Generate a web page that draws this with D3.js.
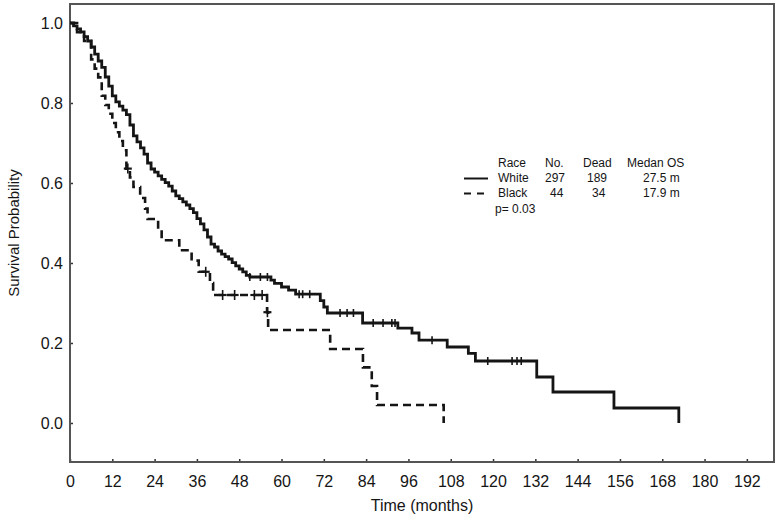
<!DOCTYPE html>
<meta charset="utf-8">
<body style="margin:0;background:#fff">
<script src="https://cdn.jsdelivr.net/npm/d3@7"></script>
<script>
// Kaplan-Meier steps (time in months, survival after the event)
var whiteTimes = [1,2,3,4,5,6,7,8,9,10,11,12,13,14,15,16,17,18,19,20,21,22,23,24,25,26,27,28,29,30,
  31,32,33,34,35,36,37,38,39,40,41,42,43,44,45,46,47,48,49,50,51,57,58,60,62,64,71,72,73,83,93,97,99,
  107,113,115,132.4,137,154.3,172.7];
var whiteSurv = [0.993,0.985,0.978,0.966,0.955,0.94,0.922,0.905,0.889,0.865,0.842,0.818,0.803,0.792,0.782,
  0.771,0.745,0.718,0.703,0.688,0.672,0.65,0.635,0.627,0.618,0.609,0.601,0.592,0.58,0.568,0.561,0.553,0.545,
  0.536,0.526,0.511,0.498,0.483,0.465,0.447,0.44,0.43,0.422,0.416,0.41,0.401,0.393,0.385,0.378,0.369,0.365,
  0.357,0.349,0.34,0.332,0.322,0.306,0.29,0.275,0.25,0.237,0.225,0.207,0.19,0.174,0.155,0.115,0.0775,0.0375,0.0];
var whiteCensor = [51,54,56,65,66,68,76.6,78.6,80.4,86,88.8,91.3,92.2,102.7,118.5,125.4,126.8,128];

var blackTimes = [2,4,6,7,8,9,10,11,12,13,14,15,16,17,18,19.9,21.3,22,25,26,31,34.5,36.5,39.7,40.6,
  55.9,56.2,73.8,83.1,85.6,87.1,106];
var blackSurv = [0.977,0.955,0.909,0.886,0.864,0.818,0.795,0.773,0.75,0.727,0.705,0.682,0.636,0.614,0.59,
  0.5625,0.536,0.51,0.482,0.457,0.432,0.406,0.378,0.35,0.32,0.277,0.2325,0.185,0.139,0.0925,0.045,0.0];
var blackCensor = [16.4,38.5,43.3,46.7,52.3,54.5,56.0];

var xTicks = d3.range(0, 193, 12);
var yTicks = [0, 0.2, 0.4, 0.6, 0.8, 1.0];

var legendHead = ["Race", "No.", "Dead", "Medan OS"];
var legendRace = ["White", "Black"];
var legendNo = ["297", "44"];
var legendDead = ["189", "34"];
var legendMedian = ["27.5 m", "17.9 m"];
var pValue = "p= 0.03";

var width = 779, height = 518;
var plotL = 70, plotR = 774, plotT = 4, plotB = 462;
var font = "Arial, 'Liberation Sans', sans-serif";
var ink = "#151515";

var x = d3.scaleLinear().domain([0, 199.7]).range([plotL, plotR]);
var y = d3.scaleLinear().domain([-0.0975, 1.0475]).range([plotB, plotT]);

var svg = d3.select("body").append("svg")
    .attr("width", width)
    .attr("height", height)
    .style("font-family", font);

// axes with inward ticks
svg.append("g")
    .attr("transform", "translate(0," + plotB + ")")
    .call(d3.axisBottom(x).tickValues(xTicks).tickSizeInner(-3).tickSizeOuter(0).tickPadding(14))
    .call(function(g) {
      g.select(".domain").remove();
      g.selectAll("line").attr("stroke", "#333").attr("stroke-width", 1.5);
      g.selectAll("text").attr("font-size", 16).attr("fill", ink);
    });

svg.append("g")
    .attr("transform", "translate(" + plotL + ",0)")
    .call(d3.axisLeft(y).tickValues(yTicks).tickFormat(d3.format(".1f")).tickSizeInner(-3).tickSizeOuter(0).tickPadding(7))
    .call(function(g) {
      g.select(".domain").remove();
      g.selectAll("line").attr("stroke", "#333").attr("stroke-width", 1.5);
      g.selectAll("text").attr("font-size", 16).attr("fill", ink);
    });

// frame
svg.append("rect")
    .attr("x", plotL).attr("y", plotT)
    .attr("width", plotR - plotL).attr("height", plotB - plotT)
    .attr("fill", "none").attr("stroke", "#555").attr("stroke-width", 2);

svg.append("text")
    .attr("x", (plotL + plotR) / 2).attr("y", 511)
    .attr("text-anchor", "middle").attr("font-size", 16).attr("fill", ink)
    .text("Time (months)");

svg.append("text")
    .attr("transform", "translate(19," + (plotT + plotB) / 2 + ")rotate(-90)")
    .attr("text-anchor", "middle").attr("font-size", 15).attr("fill", ink)
    .text("Survival Probability");

// curves
var line = d3.line()
    .x(function(d) { return x(d[0]); })
    .y(function(d) { return y(d[1]); })
    .curve(d3.curveStepAfter);

function points(times, surv) {
  return [[0, 1]].concat(times.map(function(t, i) { return [t, surv[i]]; }));
}
function survAt(times, surv, t) {
  var s = 1;
  times.forEach(function(tt, i) { if (tt <= t) s = surv[i]; });
  return s;
}

svg.append("path")
    .datum(points(whiteTimes, whiteSurv))
    .attr("d", line)
    .attr("fill", "none").attr("stroke", ink).attr("stroke-width", 2.8);

svg.append("path")
    .datum(points(blackTimes, blackSurv))
    .attr("d", line)
    .attr("fill", "none").attr("stroke", ink).attr("stroke-width", 2.6)
    .attr("stroke-dasharray", "8,5");

svg.selectAll(".cw").data(whiteCensor).enter().append("line")
    .attr("x1", function(d) { return x(d); }).attr("x2", function(d) { return x(d); })
    .attr("y1", function(d) { return y(survAt(whiteTimes, whiteSurv, d)) - 4; })
    .attr("y2", function(d) { return y(survAt(whiteTimes, whiteSurv, d)) + 4; })
    .attr("stroke", ink).attr("stroke-width", 1.6);

svg.selectAll(".cb").data(blackCensor).enter().append("g").each(function(d) {
  var cx = x(d), cy = y(survAt(blackTimes, blackSurv, d));
  var g = d3.select(this);
  g.append("line").attr("x1", cx).attr("x2", cx).attr("y1", cy - 5).attr("y2", cy + 5)
    .attr("stroke", ink).attr("stroke-width", 1.6);
  g.append("line").attr("x1", cx - 4).attr("x2", cx + 4).attr("y1", cy).attr("y2", cy)
    .attr("stroke", ink).attr("stroke-width", 2.2);
});

// legend
var lg = svg.append("g").attr("font-size", 12).attr("fill", ink);
var cols = [498, 545, 583, 627];
legendHead.forEach(function(h, i) {
  lg.append("text").attr("x", cols[i]).attr("y", 167).text(h);
});
var rowsY = [182, 197];
legendRace.forEach(function(r, i) {
  var yy = rowsY[i];
  lg.append("text").attr("x", 498).attr("y", yy).text(r);
  lg.append("text").attr("x", 545 + i * 5).attr("y", yy).text(legendNo[i]);
  lg.append("text").attr("x", 587 + i * 5).attr("y", yy).text(legendDead[i]);
  lg.append("text").attr("x", 643).attr("y", yy).text(legendMedian[i]);
  lg.append("line")
    .attr("x1", 464).attr("x2", 488).attr("y1", yy - 3.5).attr("y2", yy - 3.5)
    .attr("stroke", ink).attr("stroke-width", 2)
    .attr("stroke-dasharray", i === 0 ? null : "7,6");
});
lg.append("text").attr("x", 495).attr("y", 213).text(pValue);
</script>
</body>
